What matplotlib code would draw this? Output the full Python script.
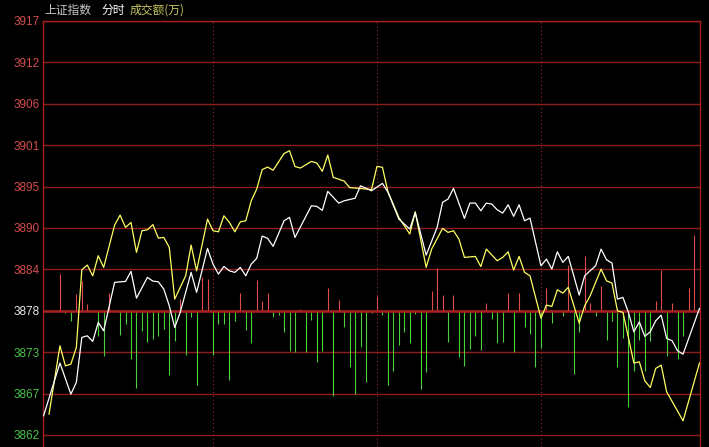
import numpy as np
import matplotlib.pyplot as plt

# left price axis: previous close and grid step
ref_price = 3878.45
step = 5.55
tick_labels = ['3862', '3867', '3873', '3878', '3884', '3890',
               '3895', '3901', '3906', '3912', '3917']

# index line (white), minute index -> price
white_x = [0, 3, 5, 6, 7, 8, 9, 10, 11, 13, 15, 16, 17, 19, 20, 21, 22, 23, 24, 25,
           27, 28, 30, 31, 32, 33, 34, 35, 36, 37, 38, 39, 40, 41, 42, 44, 45, 46,
           49, 50, 51, 52, 54, 55, 57, 58, 60, 62, 63, 65, 67, 68, 70, 72, 73, 74,
           75, 77, 78, 79, 80, 81, 82, 83, 84, 85, 86, 87, 88, 89, 91, 92, 93, 94,
           95, 96, 98, 99, 101, 102, 103, 104, 105, 106, 107, 108, 109, 110, 111,
           112, 113, 114, 115, 116, 117, 120]
white_y = [3864.37, 3871.44, 3867.28, 3868.85, 3874.88, 3875.10, 3874.35, 3876.89,
           3875.77, 3882.26, 3882.39, 3883.73, 3880.15, 3882.93, 3882.43, 3882.34,
           3881.36, 3879.12, 3876.22, 3878.24, 3883.60, 3880.92, 3886.82, 3884.71,
           3883.37, 3884.40, 3883.81, 3883.60, 3884.27, 3883.14, 3884.71, 3885.48,
           3888.47, 3888.16, 3887.09, 3890.52, 3890.97, 3888.29, 3892.53, 3892.45,
           3891.91, 3894.46, 3892.89, 3893.20, 3893.54, 3895.21, 3894.54, 3895.53,
           3894.37, 3890.75, 3889.41, 3891.62, 3885.92, 3889.63, 3892.99, 3893.43,
           3894.86, 3890.84, 3892.89, 3892.89, 3891.86, 3892.89, 3892.76, 3891.99,
           3891.55, 3892.66, 3891.11, 3892.66, 3890.52, 3890.88, 3884.48, 3885.38,
           3884.04, 3886.36, 3884.94, 3885.74, 3880.56, 3883.14, 3884.48, 3886.72,
           3885.29, 3884.85, 3880.02, 3880.25, 3878.24, 3875.63, 3876.97, 3875.02,
           3875.63, 3877.11, 3877.87, 3874.75, 3874.43, 3873.09, 3872.64, 3878.77]

# average line (yellow)
yellow_x = [1, 3, 4, 5, 6, 7, 8, 9, 10, 11, 13, 14, 15, 16, 17, 18, 19, 20, 21, 22,
            23, 24, 26, 27, 28, 30, 31, 32, 33, 34, 35, 36, 37, 38, 39, 40, 41, 42,
            44, 45, 46, 47, 49, 50, 51, 52, 53, 55, 56, 58, 60, 61, 62, 63, 65, 67,
            68, 70, 71, 73, 74, 75, 76, 77, 79, 80, 81, 83, 84, 85, 86, 87, 88, 89,
            91, 92, 93, 94, 95, 96, 98, 99, 100, 102, 103, 104, 105, 106, 107, 108,
            109, 110, 111, 112, 113, 114, 117, 120]
yellow_y = [3864.60, 3873.76, 3871.07, 3871.30, 3873.54, 3883.95, 3884.58, 3883.14,
            3885.83, 3884.27, 3889.94, 3891.28, 3889.63, 3890.30, 3886.28, 3889.18,
            3889.31, 3890.01, 3888.20, 3888.29, 3886.95, 3880.02, 3883.14, 3887.26,
            3883.81, 3890.75, 3889.18, 3889.04, 3891.19, 3890.30, 3889.04, 3890.38,
            3890.52, 3893.20, 3894.77, 3897.38, 3897.72, 3897.29, 3899.53, 3899.91,
            3897.79, 3897.59, 3898.48, 3898.26, 3897.14, 3899.33, 3896.34, 3895.84,
            3894.97, 3894.84, 3894.70, 3897.81, 3897.68, 3894.43, 3890.97, 3888.74,
            3891.73, 3884.27, 3886.72, 3889.50, 3888.96, 3889.18, 3888.06, 3885.61,
            3885.74, 3884.38, 3886.72, 3885.16, 3885.61, 3886.36, 3883.91, 3885.74,
            3883.60, 3883.14, 3877.47, 3879.21, 3879.04, 3881.27, 3880.82, 3881.59,
            3876.80, 3879.12, 3880.46, 3884.04, 3882.47, 3882.16, 3878.45, 3878.24,
            3874.88, 3871.44, 3871.61, 3869.06, 3868.18, 3870.73, 3871.17, 3867.59,
            3863.70, 3871.44]

# red/green strength bars, one per minute, relative to the previous close
bar_vals = [0, 0, 0, 4.92, -0.27, -1.34, 2.24, 4.02, 0.90, -0.13,
            -3.35, -6.03, 2.37, 0, -3.22, -1.78, -6.47, -10.41, -2.68, -4.15,
            -3.79, -3.35, -2.45, -8.58, -4.02, 1.57, -5.94, -0.85, -9.94, 4.56,
            4.25, -5.94, -1.78, -1.78, -9.21, -1.34, 2.45, -2.55, -4.38, 4.11,
            1.25, 2.37, -0.80, -0.54, -2.81, -5.36, -5.59, 0.23, -5.49, -1.21,
            -6.83, -5.36, 3.12, -11.39, 1.43, -2.14, -7.50, -11.16, -4.82, -9.61,
            -0.31, 2.01, -0.58, -9.92, -8.04, -4.56, -2.81, -4.33, -0.44, -10.49,
            -8.17, 2.59, 5.80, 2.14, -4.15, 2.10, -6.16, -7.37, -5.13, -3.35,
            -5.23, 1.11, -1.11, -4.38, -4.15, 2.37, -5.49, 2.37, -2.14, -3.12,
            -7.50, -4.92, 3.12, -1.65, 0, -0.76, 6.16, -8.48, -2.81, 7.28,
            1.11, -0.67, 3.31, -3.93, -1.43, -7.50, -3.66, -12.96, -8.13, -3.89,
            -8.04, -4.02, 1.25, 5.45, -6.03, 1.03, -6.50, -3.35, 3.02, 10.18]

vline_x = [31, 61, 91]

grid_red = '#8e1c1c'
label_red = '#d44c4c'
label_green = '#4cc24c'

fig = plt.figure(figsize=(7.09, 4.47), dpi=100, facecolor='black')
ax = fig.add_axes([43 / 709, 0, 657 / 709, 426 / 447])
ax.set_facecolor('black')

ticks = ref_price + step * np.arange(-3, 8)
top = ticks[-1]
ax.set_ylim(top - 426 * step / 41.4, top)
ax.set_xlim(-0.1, 120.1)

for t in ticks:
    ax.axhline(t, color=grid_red, lw=1.0, zorder=1)
for v in vline_x:
    ax.axvline(v, color='#a02828', lw=0.8, ls=(0, (1, 2.5)), zorder=1)

bars = np.array(bar_vals)
idx = np.arange(len(bars))
up = bars > 0
dn = bars < 0
ax.vlines(idx[up], ref_price, ref_price + bars[up], colors='#e04c4c', lw=0.8, zorder=2)
ax.vlines(idx[dn], ref_price, ref_price + bars[dn], colors='#4ad03a', lw=0.8, zorder=2)
ax.axhline(ref_price, color='#a82020', lw=1.8, zorder=3)

ax.plot(yellow_x, yellow_y, color='#ffff60', lw=0.9, zorder=4)
ax.plot(white_x, white_y, color='white', lw=0.9, zorder=5)

ax.set_xticks([])
ax.set_yticks(ticks, tick_labels)
ax.tick_params(axis='y', length=0, pad=2.5)
for lab, t in zip(ax.get_yticklabels(), ticks):
    lab.set_fontfamily('Liberation Sans')
    lab.set_fontsize(8.5)
    if abs(t - ref_price) < 0.01:
        lab.set_color('#e8e8e8')
    elif t > ref_price:
        lab.set_color(label_red)
    else:
        lab.set_color(label_green)

for side in ['left', 'top', 'right']:
    ax.spines[side].set_color('#a82020')
    ax.spines[side].set_linewidth(1.0)
ax.spines['bottom'].set_visible(False)

cjk = ['Noto Sans CJK SC', 'DejaVu Sans']
fig.text(44 / 709, 1 - 10 / 447, '上证指数', color='#c8c8c8', fontsize=8.5,
         family=cjk, va='center', ha='left')
fig.text(101 / 709, 1 - 10 / 447, '分时', color='white', fontsize=8.5,
         family=cjk, va='center', ha='left')
fig.text(130 / 709, 1 - 10 / 447, '成交额(万)', color='#c8c864', fontsize=8.5,
         family=cjk, va='center', ha='left')

fig.savefig('out.png', dpi=100, facecolor='black')
